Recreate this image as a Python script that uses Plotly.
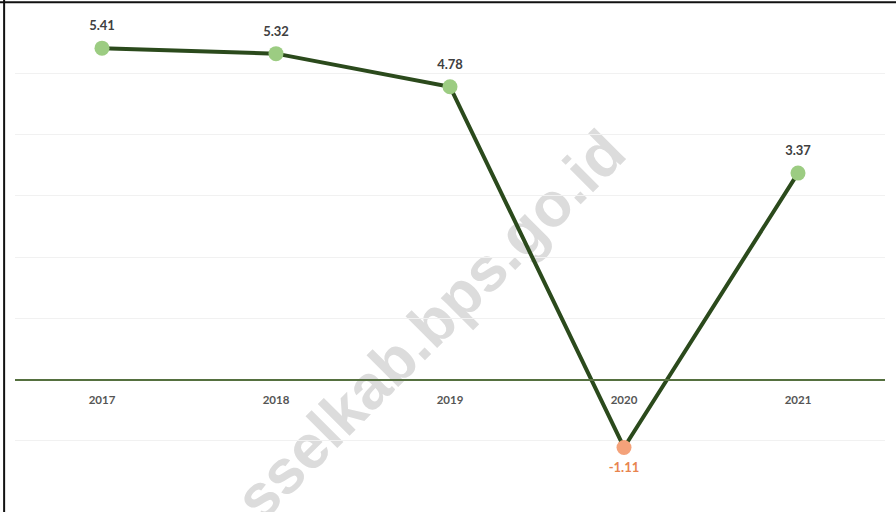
import plotly.graph_objects as go

# data
years = ["2017", "2018", "2019", "2020", "2021"]
growth = [5.41, 5.32, 4.78, -1.11, 3.37]
labels = ["5.41", "5.32", "4.78", "-1.11", "3.37"]

# marker / label colour: orange for the negative year
marker_colors = ["#f4a27a" if v < 0 else "#9ccc82" for v in growth]
label_colors = ["#e8844e" if v < 0 else "#404040" for v in growth]
positions = ["bottom center" if v < 0 else "top center" for v in growth]

fig = go.Figure()

fig.add_trace(go.Scatter(
    x=years,
    y=growth,
    mode="lines+markers",
    line=dict(color="#2b4a1c", width=4),
    marker=dict(color=marker_colors, size=15, line=dict(width=0)),
    cliponaxis=False,
    showlegend=False,
    hoverinfo="skip",
))

# data labels (invisible bigger markers push the text further out)
fig.add_trace(go.Scatter(
    x=years,
    y=growth,
    mode="markers+text",
    marker=dict(size=22, color="rgba(0,0,0,0)"),
    text=labels,
    textposition=positions,
    textfont=dict(family="Lato", size=13, color=label_colors, weight="bold"),
    cliponaxis=False,
    showlegend=False,
    hoverinfo="skip",
))

# watermark, kept under the line via a below-layer shape label
fig.add_shape(
    type="rect", xref="paper", yref="paper",
    x0=0.372, x1=0.572, y0=0.27, y1=0.47,
    line=dict(width=0), fillcolor="rgba(0,0,0,0)", layer="below",
    label=dict(
        text="sselkab.bps.go.id",
        textangle=-45,
        textposition="middle center",
        font=dict(family="Liberation Sans", size=62, color="#dcdcdc", weight="bold"),
    ),
)

# frame lines (left and top)
fig.add_shape(type="line", xref="paper", yref="paper", x0=-0.0125, x1=-0.0125, y0=-0.03, y1=1.03,
              line=dict(color="#111111", width=2))
fig.add_shape(type="line", xref="paper", yref="paper", x0=-0.02, x1=1.02, y0=1.02, y1=1.02,
              line=dict(color="#111111", width=2))

zero_pos = 2 / 8

fig.update_layout(
    width=896,
    height=512,
    margin=dict(l=15, r=11, t=12, b=10, autoexpand=False),
    paper_bgcolor="white",
    plot_bgcolor="white",
    xaxis=dict(
        type="category",
        range=[-0.5, 4.5],
        anchor="free",
        position=zero_pos,
        showline=True,
        linecolor="#55703f",
        linewidth=2,
        showgrid=False,
        ticks="outside",
        ticklen=10,
        tickcolor="rgba(0,0,0,0)",
        tickfont=dict(family="Lato", size=11.5, color="#555555", weight="bold"),
    ),
    yaxis=dict(
        range=[-2, 6],
        dtick=1,
        showticklabels=False,
        showgrid=True,
        gridcolor="#f1f1f1",
        gridwidth=1,
        zeroline=False,
        showline=False,
    ),
)

# drop the page's default body margin so the figure sits at the window corner
fig.write_html("out.html", config={"displayModeBar": False},
               post_script="document.body.style.margin='0';")
